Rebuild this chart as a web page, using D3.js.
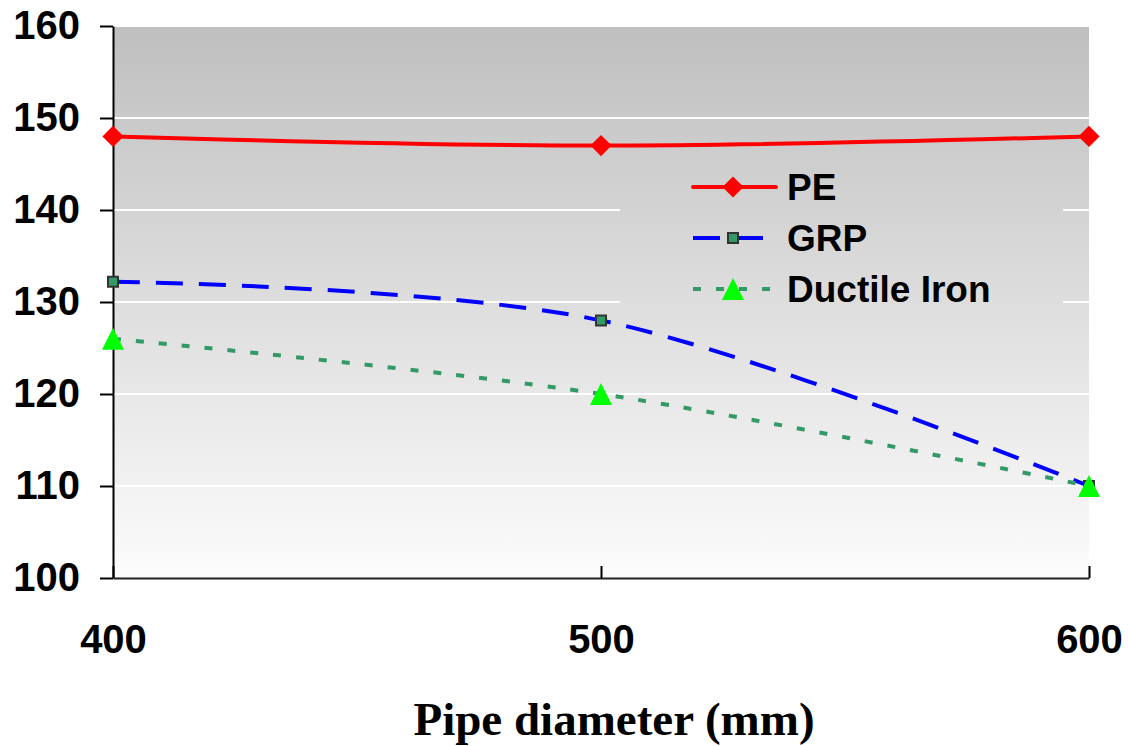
<!DOCTYPE html>
<html>
<head>
<meta charset="utf-8">
<script src="https://cdn.jsdelivr.net/npm/d3@7"></script>
<style>
	body { margin: 0; background: #ffffff; }
	svg { display: block; }
</style>
</head>
<body>
<svg id="chart" width="1128" height="746" viewBox="0 0 1128 746"></svg>
<script>

// data
const diameters = [400, 500, 600];
const peValues = [148, 147, 148];
const grpValues = [132.2, 128, 110];
const ductileValues = [126, 120, 110];
const seriesNames = ["PE", "GRP", "Ductile Iron"];
const yTicks = [100, 110, 120, 130, 140, 150, 160];
const xTitle = "Pipe diameter (mm)";

class LinePlot {

	constructor(svg_element_id) {
		this.svg = d3.select('#' + svg_element_id);

		const plot = { left: 113, right: 1089, top: 26, bottom: 578 };

		const x = d3.scaleLinear()
			.domain([400, 600])
			.range([plot.left, plot.right]);

		const y = d3.scaleLinear()
			.domain([100, 160])
			.range([plot.bottom, plot.top]);

		// background gradient, shared by plot area and legend box
		const defs = this.svg.append('defs');
		const grad = defs.append('linearGradient')
			.attr('id', 'bg')
			.attr('gradientUnits', 'userSpaceOnUse')
			.attr('x1', 0).attr('y1', plot.top)
			.attr('x2', 0).attr('y2', plot.bottom);
		grad.append('stop').attr('offset', '0%').attr('stop-color', '#bfbfbf');
		grad.append('stop').attr('offset', '100%').attr('stop-color', '#fcfcfc');

		this.svg.append('rect')
			.attr('x', plot.left)
			.attr('y', plot.top)
			.attr('width', plot.right - plot.left)
			.attr('height', plot.bottom - plot.top)
			.style('fill', 'url(#bg)');

		// white gridlines
		this.svg.append('g')
			.selectAll('line')
			.data(yTicks.filter(d => d > 100))
			.enter()
			.append('line')
			.attr('x1', plot.left)
			.attr('x2', plot.right)
			.attr('y1', d => y(d))
			.attr('y2', d => y(d))
			.style('stroke', '#ffffff')
			.style('stroke-width', 2);

		// legend box hides the gridlines behind it
		this.svg.append('rect')
			.attr('x', 620)
			.attr('y', 150)
			.attr('width', 443)
			.attr('height', 186)
			.style('fill', 'url(#bg)');

		// axes
		const yAxis = this.svg.append('g')
			.attr('transform', `translate(${plot.left},0)`)
			.call(d3.axisLeft(y).tickValues(yTicks).tickSize(13).tickSizeOuter(0).tickPadding(20));
		yAxis.select('.domain').style('stroke', '#000').style('stroke-width', 2);
		yAxis.selectAll('.tick line').style('stroke', '#000').style('stroke-width', 2);
		yAxis.selectAll('text')
			.style('font-family', '"Liberation Sans", Arial, sans-serif')
			.style('font-weight', 'bold')
			.style('font-size', '40px')
			.style('fill', '#000');

		const xAxis = this.svg.append('g')
			.attr('transform', `translate(0,${plot.bottom})`)
			.call(d3.axisBottom(x).tickValues(diameters).tickSize(-12).tickSizeOuter(0).tickFormat(d3.format('d')));
		xAxis.select('.domain').style('stroke', '#222').style('stroke-width', 2);
		xAxis.selectAll('.tick line').style('stroke', '#000').style('stroke-width', 2);
		xAxis.selectAll('text')
			.attr('y', 75)
			.attr('dy', 0)
			.style('font-family', '"Liberation Sans", Arial, sans-serif')
			.style('font-weight', 'bold')
			.style('font-size', '40px')
			.style('fill', '#000');

		this.svg.append('text')
			.attr('x', 614)
			.attr('y', 735)
			.attr('text-anchor', 'middle')
			.style('font-family', '"Liberation Serif", "Times New Roman", serif')
			.style('font-weight', 'bold')
			.style('font-size', '47px')
			.text(xTitle);

		// marker shapes
		const triangleType = {
			draw(context, size) {
				const r = Math.sqrt(size) / 2;
				context.moveTo(0, -r);
				context.lineTo(r, r);
				context.lineTo(-r, r);
				context.closePath();
			}
		};

		const series = [
			{ name: seriesNames[0], values: peValues, stroke: '#ff0000', dash: null,
				symbol: d3.symbol(d3.symbolSquare, 225), rotate: 45, fill: '#ff0000', mstroke: 'none' },
			{ name: seriesNames[1], values: grpValues, stroke: '#0000ff', dash: '27,16',
				symbol: d3.symbol(d3.symbolSquare, 100), rotate: 0, fill: '#339966', mstroke: '#333333' },
			{ name: seriesNames[2], values: ductileValues, stroke: '#339966', dash: '8,15',
				symbol: d3.symbol(triangleType, 484), rotate: 0, fill: '#00ff00', mstroke: 'none' }
		];

		const line = d3.line()
			.x((d, i) => x(diameters[i]))
			.y(d => y(d))
			.curve(d3.curveCatmullRom.alpha(0));

		series.forEach((s) => {
			const g = this.svg.append('g');
			g.append('path')
				.datum(s.values)
				.attr('d', line)
				.style('fill', 'none')
				.style('stroke', s.stroke)
				.style('stroke-width', 4)
				.style('stroke-dasharray', s.dash);
			g.selectAll('.marker')
				.data(s.values)
				.enter()
				.append('path')
				.classed('marker', true)
				.attr('d', s.symbol)
				.attr('transform', (d, i) => `translate(${x(diameters[i])},${y(d)}) rotate(${s.rotate})`)
				.style('fill', s.fill)
				.style('stroke', s.mstroke)
				.style('stroke-width', 2);
		});

		// legend
		const legend = this.svg.append('g');
		series.forEach((s, i) => {
			const ly = 187 + i * 51;
			const item = legend.append('g').attr('transform', `translate(0,${ly})`);
			item.append('line')
				.attr('x1', 693)
				.attr('x2', i === 2 ? 772 : (i === 1 ? 764 : 776))
				.style('stroke', s.stroke)
				.style('stroke-width', 4)
				.style('stroke-linecap', i === 0 ? 'round' : 'butt')
				.style('stroke-dasharray', s.dash);
			item.append('path')
				.attr('d', s.symbol)
				.attr('transform', `translate(733,0) rotate(${s.rotate})`)
				.style('fill', s.fill)
				.style('stroke', s.mstroke)
				.style('stroke-width', 2);
			item.append('text')
				.attr('x', 787)
				.attr('y', 13)
				.style('font-family', '"Liberation Sans", Arial, sans-serif')
				.style('font-weight', 'bold')
				.style('font-size', '37px')
				.text(s.name);
		});
	}
}

function whenDocumentLoaded(action) {
	if (document.readyState === "loading") {
		document.addEventListener("DOMContentLoaded", action);
	} else {
		action();
	}
}

whenDocumentLoaded(() => {
	plot_object = new LinePlot('chart');
});
</script>
</body>
</html>
